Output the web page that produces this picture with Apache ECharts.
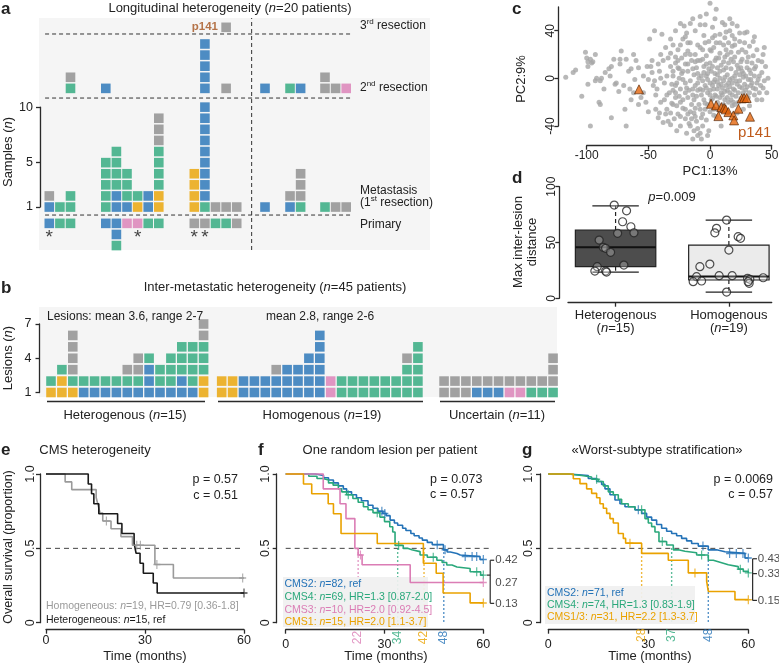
<!DOCTYPE html>
<html>
<head>
<meta charset="utf-8" />
<title>CMS heterogeneity</title>
<script src="https://cdn.jsdelivr.net/npm/echarts@6.0.0/dist/echarts.min.js"></script>
<style>
  html, body { margin: 0; padding: 0; background: #fff; }
  #main { width: 779px; height: 664px; }
</style>
</head>
<body>
<div id="main"></div>
<script type="text/javascript">
var FONT = '"Liberation Sans", Arial, Helvetica, sans-serif';
var COL = {b: '#2372b7', g: '#2aa87b', o: '#eaa200', p: '#db7db5', n: '#8c8c8c'};

// ---- a: CMS call of every sample, bottom-up, one string per patient
var aPrimary = ['b', 'g', 'g', 'b', 'bbg', 'p', 'p', 'g', 'g', 'n', 'n', 'g', 'g', 'n', '', '', '', '', '', ''];
var aMet     = ['bn', 'g', 'gg', 'ggggg', 'bbgggg', 'bggg', 'og', 'bb', 'ooggggnnn', 'oooo', 'gbbbbbbbbb', 'n', 'n', 'n', 'b', 'bn', 'gnnn', 'g', 'n', 'n'];
var aSecond  = ['', '', 'gn', 'b', '', '', '', '', '', '', 'bbbbb', '', 'n', '', 'b', 'g', 'b', 'nn', 'n', 'p'];
var aThird   = ['', '', '', '', '', '', '', '', '', '', '', '', 'n', '', '', '', '', '', '', ''];
var aStar    = [1, 0, 0, 0, 0, 0, 1, 0, 0, 1, 1, 0, 0, 0, 0, 0, 0, 0, 0, 0];
var aGroups  = [3, 6, 5, 1, 2, 3];

// ---- b: lesions per patient, bottom-up
var bHet = ['og', 'oog', 'ognnnn', 'bg', 'bg', 'bg', 'bg', 'bgn', 'bgnn', 'bbbg', 'bgg', 'bggg', 'bbggg', 'bgggg', 'oogggnn'];
var bHom = ['oo', 'oo', 'bb', 'bb', 'bb', 'bbn', 'bbb', 'bbb', 'bbbb', 'bbbbbb', 'pp', 'gg', 'gg', 'gg', 'gg', 'gg', 'gg', 'gggn', 'ggggg'];
var bUnc = ['nn', 'nn', 'nn', 'bn', 'bn', 'bn', 'pn', 'pn', 'gn', 'gn', 'gnnn'];

// ---- c: PCA (PC1, PC2)
var cSamples = [
  [-117,1],[-111,5],[-109,7],[-104,-15],[-101,22],[-100,17],[-99,14],[-97,16],[-96,13],[-99,10],[-93,20],[-95,14],[-93,-2],[-99,-5],[-92,0],[-89,-2],[-88,0],[-97,-40],[-90,-20],[-89,-22],
  [-86,-9],[-85,5],[-82,8],[-81,2],[-80,10],[-78,16],[-80,-33],[-77,-5],[-76,-4],[-74,-11],[-73,12],[-72,23],[-73,16],[-70,-6],[-69,-26],[-68,-40],[-68,16],[-66,6],[-65,-9],[-64,8],
  [-62,-12],[-61,-1],[-60,15],[-58,9],[-56,-16],[-54,-12],[-52,-20],[-51,10],[-50,-1],
  [-49,33],[-47,15],[-47,5],[-45,40],[-45,-2],[-43,-9],[-42,12],[-41,6],[-41,-29],[-39,37],[-38,15],[-37,-18],[-37,-4],[-35,2],[-35,-26],[-34,17],[-33,-12],[-32,21],[-32,10],[-31,-5],
  [-31,-21],[-30,28],[-30,2],[-29,-34],[-28,-12],[-28,13],[-27,-23],[-27,-4],[-26,24],[-25,8],[-24,-9],[-24,-32],[-23,17],[-22,-18],[-22,33],[-22,-1],[-21,44],[-20,12],[-20,-26],[-19,-8],
  [-19,38],[-18,23],[-18,6],[-18,-16],[-17,-38],[-16,-2],[-16,30],[-15,15],[-15,-22],[-14,50],[-14,-9],[-13,3],[-13,-29],[-12,20],[-12,40],[-11,-15],[-11,9],[-10,-4],[-10,28],[-10,-42],
  [-9,-22],[-8,15],[-8,-9],[-8,45],[-7,2],[-7,-33],[-6,24],[-5,-18],[-5,36],[-5,10],[-4,-6],[-4,-26],[-3,19],[-3,54],[-3,2],[-2,-12],[-1,31],[-1,-44],[0,13],[0,63],
  [0,-4],[1,-18],[1,23],[1,6],[2,43],[3,-9],[3,-31],[4,15],[4,-1],[5,58],[5,30],[5,-15],[6,9],[7,-6],[8,21],[8,37],[8,0],[9,-40],[9,11],[9,-12],
  [10,47],[11,28],[11,-2],[11,7],[12,18],[12,-18],[13,39],[13,-6],[14,3],[15,30],[15,13],[16,-12],[16,50],[16,-1],[17,22],[17,8],[18,-23],[18,36],[19,-9],[19,14],
  [20,2],[20,28],[21,-15],[22,44],[22,11],[22,-5],[23,22],[24,31],[24,3],[25,-17],[25,14],[26,24],[26,6],[27,-12],[28,38],[29,2],[30,14],[30,-7],[31,18],[32,-12],
  [32,7],[33,-1],[34,13],[35,19],[35,-8],[36,2],[37,10],[38,-4],[39,15],[40,-12],[42,5],[43,20],[44,-2],[45,10],[46,-12],[47,0],[35,31],[38,24],[30,39],
  [3,-26],[8,-23],[-3,-35],[-8,-46],[-14,-51],[-24,-40],[-32,-39],[-38,-37],[5,-32],[14,-29],[22,-29],[27,-26],[32,-23],[38,-18],[42,-18],[-4,-21],[-11,-36],[-19,-46],[-27,-44],[-32,-29],
  [-13,-44],[-7,-51],[2,-6],[6,-3],[10,-8],[14,-10],[18,-4],[-2,-1],[4,4],[12,1],[20,-10],[24,-2],[-6,-10],[-9,0],[-13,-18],[28,-5],[7,17],[-1,8],[15,-20],[25,9],
  [-20,-12],[-25,0],[10,-26],[19,-20],[23,-12],[4,-14],[-16,-28],[-5,5],[13,9],[31,-1],[36,-14],[41,-6],[-28,-16],[-35,-14],[-40,0],[-44,-14],[-23,4],[-10,15],[3,26],[18,27],
  [-18,30],[-26,15],[0,-10],[8,-16],[16,-7],[-12,-6],[6,3],[-7,-14],[21,5],[27,1],[-3,12],[11,-22],[-20,20],[-30,-10],[2,34],[13,24],[33,-6],[-15,-34],[18,-14],[-8,-26],
  [-25,-15],[-22,-25],[-18,-30],[-12,-25],[-6,-30],[-2,-22],[2,-17],[6,-20],[10,-14],[14,-16],[17,-18],[20,-22],[23,-20],[26,-8],[29,-10],[31,-16],[34,-4],[37,-9],[40,2],[43,-8],
  [-28,-6],[-24,-20],[-20,-4],[-17,-10],[-14,-14],[-10,-10],[-6,-2],[-3,-8],[0,-14],[3,-3],[6,-9],[9,-5],[12,-11],[15,-4],[18,0],[21,-2],[24,-7],[27,4],[30,9],[33,4],
  [36,8],[39,-1],[-30,6],[-26,9],[-22,6],[-18,12],[-14,8],[-10,4],[-6,16],[-2,4],[2,10],[5,17],[8,6],[11,14],[14,20],[17,16],[20,18],[23,8],[26,16],[29,22],
  [32,27],[-28,18],[-24,28],[-20,35],[-16,20],[-12,14],[-8,26],[-4,30],[0,24],[4,36],[8,30],[12,34],[16,40],[20,33],[24,38],[-12,-32],[-16,-40],[-20,-34],[-26,-30],[-30,-22],
  [-36,-30],[-40,-20],[-44,-26],[-46,-6],[-48,10],[-40,20],[-36,26],[-32,33],[-28,40],[-24,46],[-16,46],[-8,52],[-4,45],[4,50],[12,45],[18,46],[28,30],[36,35],[42,14],[44,26],
  [-6,-40],[0,-28],[6,-26],[-2,-48],[-10,-48],[-34,-36],[-42,-33],[-50,-28],[-54,2],[-58,-22],[-62,20],[-64,-18]
];
var cP141 = [[-57.6,-9.2],[0.8,-21.3],[4.9,-22.7],[9.2,-24.1],[11.4,-24.9],[12.7,-26],[14.9,-28.3],[18.9,-31.1],[19.5,-35.3],[6.8,-31.7],[23,-25.5],[25.7,-16.8],[27.6,-16.5],[29.7,-16.5],[32.4,-32.2]];

// ---- d: max inter-lesion distance, [jittered group position, distance]
var dHet = [[0.988,83.5],[1.097,78.4],[1.062,68.6],[1.135,64.1],[1.018,58.2],[1.162,58.7],[0.855,52.2],[0.891,45.7],[0.912,44.8],[0.956,41.2],[1.073,29.8],[0.838,28.3],[0.817,24.4],[0.912,24.4],[0.92,23.5]];
var dHom = [[1.98,70.1],[1.891,62.7],[1.876,58.7],[2.082,55.2],[2.103,53.7],[2.0,43.2],[1.832,30.7],[1.744,28.3],[1.914,20.3],[2.029,20.3],[1.715,19.4],[1.685,14.9],[1.759,15.5],[2.165,17.9],[2.185,17],[2.179,13.4],[2.17,14.9],[2.303,18.4],[1.98,5.6]];
// group, lower whisker, Q1, median, Q3, upper whisker
var dBox = [[1, 23.5, 28.3, 45.7, 61.2, 82.9], [2, 5.6, 16.4, 19.6, 47.7, 70.1]];
var dFill = ['#4d4d4d', '#ebebeb'];

// ---- e: KM, CMS heterogeneity
var eHom = [[0,1],[5.8,0.947],[7.8,0.895],[15.2,0.842],[15.8,0.789],[16.4,0.737],[17.2,0.684],[19.7,0.632],[22.7,0.579],[26.2,0.521],[33,0.391],[38.6,0.301],[60,0.301]];
var eHomCens = [[18.3,0.684],[27.5,0.521],[28.6,0.521],[33.6,0.391],[59.6,0.301]];
var eHet = [[0,1],[12.8,0.933],[13.8,0.867],[14.5,0.8],[16,0.733],[21.7,0.667],[23,0.6],[26.7,0.533],[27.3,0.467],[28.5,0.4],[29.5,0.333],[32.5,0.267],[33.7,0.2],[60,0.2]];
var eHetCens = [[60,0.2]];

// ---- f: KM, one random lesion per patient
var fCms2 = [[0,1],[9,0.99],[11.5,0.975],[13,0.96],[14.5,0.94],[16,0.92],[17.5,0.9],[18.5,0.88],[20,0.86],[21.5,0.84],[23,0.82],[25,0.79],[26.5,0.77],[28,0.75],[29.5,0.735],[30.5,0.72],[31.7,0.69],[33,0.67],[34,0.655],[35.5,0.635],[36.5,0.62],[38,0.6],[39,0.585],[40.5,0.57],[41.5,0.555],[43,0.54],[44.5,0.525],[47.9,0.49],[49,0.475],[50,0.465],[52,0.455],[53,0.445],[59,0.425],[60,0.425]];
var fCms2Cens = [[29.2,0.75],[30.1,0.735],[46,0.525],[48.4,0.49],[54.5,0.445],[56.6,0.445],[58,0.445],[60,0.425]];
var fCms4 = [[0,1],[7,0.985],[9.5,0.97],[11.3,0.96],[13,0.94],[14.4,0.925],[16,0.9],[17,0.88],[18.5,0.86],[20.4,0.835],[22,0.81],[23.6,0.78],[25,0.76],[26.5,0.74],[28.6,0.71],[30,0.68],[31.6,0.645],[32.5,0.61],[33.2,0.52],[35.7,0.5],[37,0.49],[38.3,0.478],[40.8,0.455],[43,0.44],[45.9,0.42],[47.5,0.405],[48.9,0.388],[50.5,0.375],[52,0.365],[56,0.343],[59.2,0.32],[60,0.32]];
var fCms4Cens = [[19,0.86],[27.8,0.74],[34.3,0.52],[44.8,0.44],[58,0.343],[60,0.32]];
var fCms3 = [[0,1],[11.4,0.9],[16.5,0.8],[18.3,0.7],[21,0.5],[22,0.455],[23.2,0.39],[37.8,0.27],[60,0.27]];
var fCms3Cens = [[22.7,0.455],[60,0.27]];
var fCms1 = [[0,1],[5.4,0.933],[7.9,0.867],[12.9,0.8],[14.5,0.733],[16.8,0.6],[27.8,0.533],[41.8,0.4],[45.7,0.333],[47.8,0.2],[56,0.133],[60,0.133]];
var fCms1Cens = [[60,0.133]];
var fMedian = [22, 34, 42, 48];
var fEnd = [0.42, 0.27, 0.13];

// ---- g: KM, worst-subtype stratification
var gCms2 = [[0,1],[6,0.99],[12,0.97],[14.5,0.95],[16,0.93],[17,0.9],[18.5,0.86],[20,0.825],[21.5,0.8],[23,0.78],[26,0.76],[28,0.735],[29.5,0.71],[31,0.69],[32.5,0.66],[34,0.635],[35.5,0.615],[37,0.6],[38.5,0.585],[40,0.567],[41.5,0.55],[43,0.533],[45,0.515],[48,0.49],[50.5,0.477],[53,0.466],[59,0.435],[60,0.435]];
var gCms2Cens = [[27,0.76],[46.4,0.515],[54.4,0.466],[56.4,0.466],[58.4,0.466],[60,0.435]];
var gCms4 = [[0,1],[6,0.99],[10,0.98],[13,0.965],[15,0.95],[16.5,0.92],[18,0.88],[19.5,0.86],[21,0.83],[22,0.8],[24,0.78],[26,0.76],[29,0.7],[30,0.67],[31,0.646],[32,0.61],[33.2,0.546],[35.5,0.523],[37.5,0.49],[39,0.48],[41,0.47],[44.5,0.455],[48,0.42],[49.5,0.41],[51,0.4],[52.5,0.39],[54,0.377],[57,0.36],[58.5,0.345],[60,0.335]];
var gCms4Cens = [[14.5,0.965],[28,0.76],[34.2,0.546],[46,0.455],[57.6,0.36],[60,0.335]];
var gCms13 = [[0,1],[7.5,0.968],[9.5,0.935],[11.5,0.9],[13,0.87],[14.5,0.84],[15.5,0.8],[16.5,0.77],[17.5,0.735],[18.5,0.7],[19.5,0.67],[21,0.6],[22.5,0.567],[23.2,0.535],[28,0.466],[36,0.42],[42,0.335],[47.5,0.28],[48,0.21],[56,0.155],[60,0.155]];
var gCms13Cens = [[24.5,0.535],[44,0.335],[60,0.155]];
var gMedian = [28, 37, 48];
var gEnd = [0.43, 0.33, 0.15];

// ---------------------------------------------------------------
var GRAY = '#9a9a9a', BLACK = '#1a1a1a', INK = '#2a2a2a';
var CENS = 'path://M5,0L5,10M0,5L10,5';

// column positions (slot units) of panels a and b
var aSlotStart = [0, 5.33, 13.68, 20.35, 22.71, 26.01];
var bSlotStart = [0, 15.66, 36.06];

function sq(x, y, c) { return {value: [x, y], itemStyle: {color: COL[c]}}; }

var aX = [];
aGroups.forEach(function (n, g) { for (var i = 0; i < n; i++) aX.push(aSlotStart[g] + i); });
var aSq = [], aStars = [];
for (var i = 0; i < aX.length; i++) {
  aPrimary[i].split('').forEach(function (c, k) { aSq.push(sq(aX[i], 0.53 - (k + 1), c)); });
  aMet[i].split('').forEach(function (c, k) { aSq.push(sq(aX[i], k + 1, c)); });
  aSecond[i].split('').forEach(function (c, k) { aSq.push(sq(aX[i], 10.69 + k + 1, c)); });
  aThird[i].split('').forEach(function (c, k) { aSq.push(sq(aX[i], 16.19 + k + 1, c)); });
  if (aStar[i]) aStars.push([aX[i], -1.75]);
}

var bSq = [];
[bHet, bHom, bUnc].forEach(function (grp, g) {
  grp.forEach(function (s, j) {
    s.split('').forEach(function (c, k) { bSq.push(sq(bSlotStart[g] + j, k + 1, c)); });
  });
});

function ax(grid, min, max, ticks, o) {
  o = o || {};
  var label = {show: true, customValues: ticks, color: '#222', fontSize: o.fs || 12.5,
    margin: o.margin == null ? 4 : o.margin, rotate: o.rotate || 0, fontFamily: FONT};
  if (o.fmt) label.formatter = o.fmt;
  if (o.rich) label.rich = o.rich;
  return {type: 'value', gridIndex: grid, min: min, max: max, offset: o.offset || 0,
    axisLine: {show: true, onZero: false, lineStyle: {color: INK, width: 1.3}},
    axisTick: {show: true, length: o.tick || 4, customValues: ticks, lineStyle: {color: INK, width: 1.3}},
    axisLabel: label, splitLine: {show: false}};
}
function hid(grid, min, max) {
  var a = {type: 'value', gridIndex: grid, show: false, splitLine: {show: false}, axisLine: {onZero: false}};
  if (min != null) { a.min = min; a.max = max; }
  return a;
}
function kmFmt(v) { return v === 1 ? '1.0' : (v === 0 ? '0' : String(v)); }

// straight segments [x1, y1, x2, y2] in data space, not clipped to the grid
function segs(ai, rows, color, dash, w, z) {
  var st = {stroke: color, lineWidth: w || 1};
  if (dash) st.lineDash = dash;
  return {type: 'custom', xAxisIndex: ai, yAxisIndex: ai, data: rows, silent: true, clip: false, z: z || 2,
    encode: {x: [0, 2], y: [1, 3]},
    renderItem: function (params, api) {
      var p1 = api.coord([api.value(0), api.value(1)]), p2 = api.coord([api.value(2), api.value(3)]);
      return {type: 'line', shape: {x1: p1[0], y1: p1[1], x2: p2[0], y2: p2[1]}, style: st};
    }};
}
function km(ai, pts, color) {
  return {type: 'line', xAxisIndex: ai, yAxisIndex: ai, data: pts, step: 'end', symbol: 'none', silent: true,
    clip: false, z: 3, lineStyle: {color: color, width: 1.6}};
}
function cens(ai, pts, color) {
  return {type: 'scatter', xAxisIndex: ai, yAxisIndex: ai, data: pts, symbol: CENS, symbolSize: [7, 9], silent: true,
    z: 3, itemStyle: {color: 'rgba(0,0,0,0)', borderColor: color, borderWidth: 1.3}};
}
function tag(ai, pts, text, lab) {
  return {type: 'scatter', xAxisIndex: ai, yAxisIndex: ai, data: pts, symbolSize: 1, silent: true, clip: false, z: 4,
    itemStyle: {color: 'rgba(0,0,0,0)'},
    label: Object.assign({show: true, formatter: text, fontFamily: FONT, position: 'inside'}, lab)};
}
function medians(ai, meds, cols, yLab) {
  var out = [];
  meds.forEach(function (m, k) {
    out.push(segs(ai, [[m, 0.5, m, 0]], cols[k], [1.5, 2.5], 1.4, 1));
    out.push(tag(ai, [[m, yLab]], String(m), {rotate: 90, color: cols[k], fontSize: 12}));
  });
  return out;
}
function bracket(ai, xv, ends, stubs) {
  var rows = [[xv, ends[0], xv, ends[ends.length - 1]]];
  stubs.forEach(function (s) { rows.push([xv + s[0], s[1], xv + s[2], s[1]]); });
  return segs(ai, rows, INK, null, 1.2, 3);
}

var series = [
  // a
  segs(0, [[-0.4, 0.28, 28.65, 0.28], [-0.4, 10.82, 28.65, 10.82], [-0.4, 16.59, 28.65, 16.59], [19.09, -2.87, 19.09, 18.03]],
    '#333', [4, 3], 1),
  {type: 'scatter', xAxisIndex: 0, yAxisIndex: 0, symbol: 'rect', symbolSize: 9.6, data: aSq, silent: true, z: 3},
  tag(0, aStars, '*', {fontSize: 19, color: '#111'}),
  tag(0, [[aX[10], 17.19]], 'p141', {fontSize: 11.5, fontWeight: 'bold', color: '#a5521d'}),
  // b
  {type: 'scatter', xAxisIndex: 2, yAxisIndex: 2, symbol: 'rect', symbolSize: 9.6, data: bSq, silent: true, z: 3},
  // c
  {type: 'scatter', xAxisIndex: 4, yAxisIndex: 4, data: cSamples, symbolSize: 5, clip: false, silent: true,
    itemStyle: {color: '#a6a6a6'}},
  {type: 'scatter', xAxisIndex: 4, yAxisIndex: 4, data: cP141, symbol: 'triangle', symbolSize: 9, clip: false, silent: true,
    z: 3, itemStyle: {color: '#e4650c', borderColor: '#4d2000', borderWidth: 0.8}},
  // d
  {type: 'custom', xAxisIndex: 5, yAxisIndex: 5, data: dBox, silent: true, clip: false,
    encode: {x: 0, y: [1, 2, 3, 4, 5]},
    renderItem: function (params, api) {
      var x = api.value(0), lo = api.value(1), q1 = api.value(2), md = api.value(3), q3 = api.value(4), hi = api.value(5);
      var hw = 0.355, cw = 0.205;
      var L = api.coord([x - hw, q3]), R = api.coord([x + hw, q1]), M = api.coord([x, md]);
      var capL = api.coord([x - cw, hi])[0], capR = api.coord([x + cw, hi])[0];
      var yHi = api.coord([x, hi])[1], yLo = api.coord([x, lo])[1];
      var ink = {stroke: '#222', lineWidth: 1.2};
      var dash = {stroke: '#222', lineWidth: 1.2, lineDash: [4, 3]};
      return {type: 'group', children: [
        {type: 'line', shape: {x1: M[0], y1: L[1], x2: M[0], y2: yHi}, style: dash},
        {type: 'line', shape: {x1: M[0], y1: R[1], x2: M[0], y2: yLo}, style: dash},
        {type: 'line', shape: {x1: capL, y1: yHi, x2: capR, y2: yHi}, style: ink},
        {type: 'line', shape: {x1: capL, y1: yLo, x2: capR, y2: yLo}, style: ink},
        {type: 'rect', shape: {x: L[0], y: L[1], width: R[0] - L[0], height: R[1] - L[1]},
          style: {fill: dFill[params.dataIndex], stroke: '#222', lineWidth: 1.2}},
        {type: 'line', shape: {x1: L[0], y1: M[1], x2: R[0], y2: M[1]}, style: {stroke: '#111', lineWidth: 2}}
      ]};
    }},
  {type: 'scatter', xAxisIndex: 5, yAxisIndex: 5, data: dHet.concat(dHom), symbolSize: 8, silent: true, clip: false, z: 3,
    itemStyle: {color: 'rgba(255,255,255,0.3)', borderColor: '#222', borderWidth: 1.2}},
  // e
  segs(6, [[0, 0.5, 60, 0.5]], '#444', [5, 4], 1, 1),
  km(6, eHom, GRAY), km(6, eHet, BLACK), cens(6, eHomCens, GRAY), cens(6, eHetCens, BLACK),
  // f
  segs(7, [[0, 0.5, 62.6, 0.5]], '#444', [5, 4], 1, 1),
  km(7, fCms2, COL.b), km(7, fCms4, COL.g), km(7, fCms3, COL.p), km(7, fCms1, COL.o),
  cens(7, fCms2Cens, COL.b), cens(7, fCms4Cens, COL.g), cens(7, fCms3Cens, COL.p), cens(7, fCms1Cens, COL.o),
  bracket(7, 62.1, fEnd, [[0, fEnd[0], 1.2], [0, fEnd[2], 1.2], [-1, 0.32, 0]]),
  tag(7, fEnd.map(function (v) { return [63.5, v]; }), function (p) { return p.value[1].toFixed(2); },
    {position: 'right', distance: 0, fontSize: 11.5, color: '#222'}),
  // g
  segs(8, [[0, 0.5, 62, 0.5]], '#444', [5, 4], 1, 1),
  km(8, gCms2, COL.b), km(8, gCms4, COL.g), km(8, gCms13, COL.o),
  cens(8, gCms2Cens, COL.b), cens(8, gCms4Cens, COL.g), cens(8, gCms13Cens, COL.o),
  bracket(8, 61.3, gEnd, [[0, gEnd[0], 1.3], [0, gEnd[1], 1.3], [0, gEnd[2], 1.3]]),
  tag(8, gEnd.map(function (v) { return [62.7, v]; }), function (p) { return p.value[1].toFixed(2); },
    {position: 'right', distance: 0, fontSize: 11.5, color: '#222'})
];
series = series.concat(medians(7, fMedian, [COL.p, COL.g, COL.o, COL.b], -0.1));
series = series.concat(medians(8, gMedian, [COL.o, COL.g, COL.b], -0.085));

// ---- texts
function T(x, y, text, o) {
  o = o || {};
  var fs = o.fs || 13, c = o.color || '#222', al = o.align || 'left';
  return {type: 'text', x: x, y: y, rotation: o.rot || 0, z: 100, silent: true,
    style: {text: text, fill: c, fontSize: fs, fontFamily: FONT, fontWeight: o.bold ? 'bold' : 'normal',
      align: al, verticalAlign: 'middle', textAlign: al, textVerticalAlign: 'middle',
      rich: {
        i: {fontStyle: 'italic', fontSize: fs, fontFamily: FONT, fill: c},
        n: {fontSize: fs, fontFamily: FONT, fill: c, lineHeight: 16},
        s: {fontSize: Math.round(fs * 0.65), fontFamily: FONT, fill: c, lineHeight: 10, verticalAlign: 'top'}
      }}};
}
function Ln(x1, y1, x2, y2) {
  return {type: 'line', z: 100, silent: true, shape: {x1: x1, y1: y1, x2: x2, y2: y2}, style: {stroke: INK, lineWidth: 1.3}};
}
function Box(x, y, w, h) {
  return {type: 'rect', z: 2, silent: true, shape: {x: x, y: y, width: w, height: h}, style: {fill: 'rgba(240,240,240,0.93)'}};
}
var ROT = Math.PI / 2;
var graphics = [
  // a
  T(1, 9, 'a', {fs: 17, bold: true}),
  T(230, 8, 'Longitudinal heterogeneity ({i|n}=20 patients)', {align: 'center'}),
  T(360, 26, '{n|3}{s|rd}{n| resection}', {fs: 12}),
  T(360, 88, '{n|2}{s|nd}{n| resection}', {fs: 12}),
  T(360, 191, 'Metastasis', {fs: 12}),
  T(360, 203, '{n|(1}{s|st}{n| resection)}', {fs: 12}),
  T(360, 225, 'Primary', {fs: 12}),
  T(8, 152, 'Samples ({i|n})', {rot: ROT, align: 'center'}),
  // b
  T(1, 288, 'b', {fs: 17, bold: true}),
  T(275, 287, 'Inter-metastatic heterogeneity ({i|n}=45 patients)', {align: 'center'}),
  T(47, 317, 'Lesions: mean 3.6, range 2-7', {fs: 12}),
  T(266, 317, 'mean 2.8, range 2-6', {fs: 12}),
  T(8, 358, 'Lesions ({i|n})', {rot: ROT, align: 'center'}),
  Ln(47, 401.5, 205, 401.5), Ln(218, 401.5, 423, 401.5), Ln(440, 401.5, 555, 401.5),
  T(125, 415, 'Heterogenous ({i|n}=15)', {align: 'center'}),
  T(322, 415, 'Homogenous ({i|n}=19)', {align: 'center'}),
  T(497, 415, 'Uncertain ({i|n}=11)', {align: 'center'}),
  // c
  T(512, 9, 'c', {fs: 17, bold: true}),
  T(521, 79, 'PC2:9%', {rot: ROT, align: 'center'}),
  T(710, 171, 'PC1:13%', {align: 'center'}),
  T(738, 133, 'p141', {fs: 15, color: '#bf5b1c'}),
  // d
  T(512, 178, 'd', {fs: 17, bold: true}),
  T(518, 242, 'Max inter-lesion', {rot: ROT, align: 'center'}),
  T(532, 242, 'distance', {rot: ROT, align: 'center'}),
  T(672, 197, '{i|p}=0.009', {align: 'center'}),
  // e
  T(1, 450, 'e', {fs: 17, bold: true}),
  T(95, 450, 'CMS heterogeneity', {align: 'center'}),
  T(238, 480, 'p = 0.57', {fs: 12.5, align: 'right'}),
  T(238, 496, 'c = 0.51', {fs: 12.5, align: 'right'}),
  T(9, 547, 'Overall survival (proportion)', {rot: ROT, align: 'center', fs: 12.5}),
  T(145, 656, 'Time (months)', {align: 'center'}),
  T(46, 606.5, 'Homogeneous: {i|n}=19, HR=0.79 [0.36-1.8]', {fs: 10.5, color: GRAY}),
  T(46, 620, 'Heterogeneous: {i|n}=15, ref', {fs: 10.5, color: BLACK}),
  // f
  T(258, 450, 'f', {fs: 17, bold: true}),
  T(390, 450, 'One random lesion per patient', {align: 'center'}),
  T(430, 480, 'p = 0.073', {fs: 12.5}),
  T(430, 495, 'c = 0.57', {fs: 12.5}),
  T(386, 656, 'Time (months)', {align: 'center'}),
  Box(283, 577, 145, 50),
  T(284.5, 584.5, 'CMS2: {i|n}=82, ref', {fs: 10.5, color: COL.b}),
  T(284.5, 597.5, 'CMS4: {i|n}=69, HR=1.3 [0.87-2.0]', {fs: 10.5, color: COL.g}),
  T(284.5, 610, 'CMS3: {i|n}=10, HR=2.0 [0.92-4.5]', {fs: 10.5, color: COL.p}),
  T(284.5, 622, 'CMS1: {i|n}=15, HR=2.0 [1.1-3.7]', {fs: 10.5, color: COL.o}),
  // g
  T(522, 450, 'g', {fs: 17, bold: true}),
  T(657, 450, '\u00abWorst-subtype stratification\u00bb', {align: 'center'}),
  T(773, 480, 'p = 0.0069', {fs: 12.5, align: 'right'}),
  T(773, 495, 'c = 0.57', {fs: 12.5, align: 'right'}),
  T(650, 656, 'Time (months)', {align: 'center'}),
  Box(545, 586, 150, 38),
  T(547, 593, 'CMS2: {i|n}=71, ref', {fs: 10.5, color: COL.b}),
  T(547, 605.5, 'CMS4: {i|n}=74, HR=1.3 [0.83-1.9]', {fs: 10.5, color: COL.g}),
  T(547, 617.5, 'CMS1/3: {i|n}=31, HR=2.2 [1.3-3.7]', {fs: 10.5, color: COL.o})
];

var option = {
  animation: false,
  backgroundColor: '#ffffff',
  textStyle: {fontFamily: FONT},
  grid: [
    {left: 39, top: 18, width: 391, height: 232, show: true, backgroundColor: '#f5f5f5', borderWidth: 0, outerBoundsMode: 'none'},
    {left: 40, top: 107.1, width: 10, height: 99.9, outerBoundsMode: 'none'},
    {left: 39, top: 307, width: 518, height: 90, show: true, backgroundColor: '#f5f5f5', borderWidth: 0, outerBoundsMode: 'none'},
    {left: 39.5, top: 324, width: 10, height: 68.5, outerBoundsMode: 'none'},
    {left: 586.7, top: 6.9, width: 185, height: 119.1, outerBoundsMode: 'none'},
    {left: 568, top: 186.7, width: 203.7, height: 111.6, outerBoundsMode: 'none'},
    {left: 46, top: 474, width: 198, height: 148.7, outerBoundsMode: 'none'},
    {left: 285.7, top: 474, width: 197.6, height: 148.7, outerBoundsMode: 'none'},
    {left: 548.3, top: 474, width: 200, height: 148.7, outerBoundsMode: 'none'}
  ],
  xAxis: [
    hid(0, -0.972, 35.915),
    hid(1),
    hid(2, -1.1, 46.42),
    hid(3),
    ax(4, -100, 50, [-100, -50, 0, 50], {offset: 19.7, margin: 4, fs: 12}),
    ax(5, 0.58, 2.378, [1, 2], {offset: 4.4, margin: 6, fs: 13,
      fmt: function (v) { return v === 1 ? 'Heterogenous\n({i|n}=15)' : 'Homogenous\n({i|n}=19)'; },
      rich: {i: {fontStyle: 'italic', fontSize: 13, fontFamily: FONT, color: '#222'}}}),
    ax(6, 0, 60, [0, 30, 60], {offset: 7, margin: 4, fs: 12.5}),
    ax(7, 0, 60, [0, 30, 60], {offset: 7, margin: 8, fs: 12.5}),
    ax(8, 0, 60, [0, 30, 60], {offset: 7, margin: 8, fs: 12.5})
  ],
  yAxis: [
    hid(0, -2.87, 18.03),
    ax(1, 1, 10, [1, 5, 10], {margin: 7}),
    hid(2, 0.606, 8.49),
    ax(3, 1, 7, [1, 4, 7], {margin: 8}),
    ax(4, -40, 60, [-40, 0, 40], {offset: 28.4, margin: 2, rotate: 90, fs: 12}),
    ax(5, 0, 100, [0, 50, 100], {offset: 8.7, margin: 2, rotate: 90, fs: 12}),
    ax(6, 0, 1, [0, 0.5, 1], {offset: 6, margin: 3, rotate: 90, fmt: kmFmt}),
    ax(7, 0, 1, [0, 0.5, 1], {offset: 9, margin: 5, rotate: 90, fmt: kmFmt}),
    ax(8, 0, 1, [0, 0.5, 1], {offset: 8.3, margin: 5, rotate: 90, fmt: kmFmt})
  ],
  graphic: {elements: graphics},
  series: series
};

var myChart = echarts.init(document.getElementById('main'));
myChart.setOption(option);
</script>
</body>
</html>
